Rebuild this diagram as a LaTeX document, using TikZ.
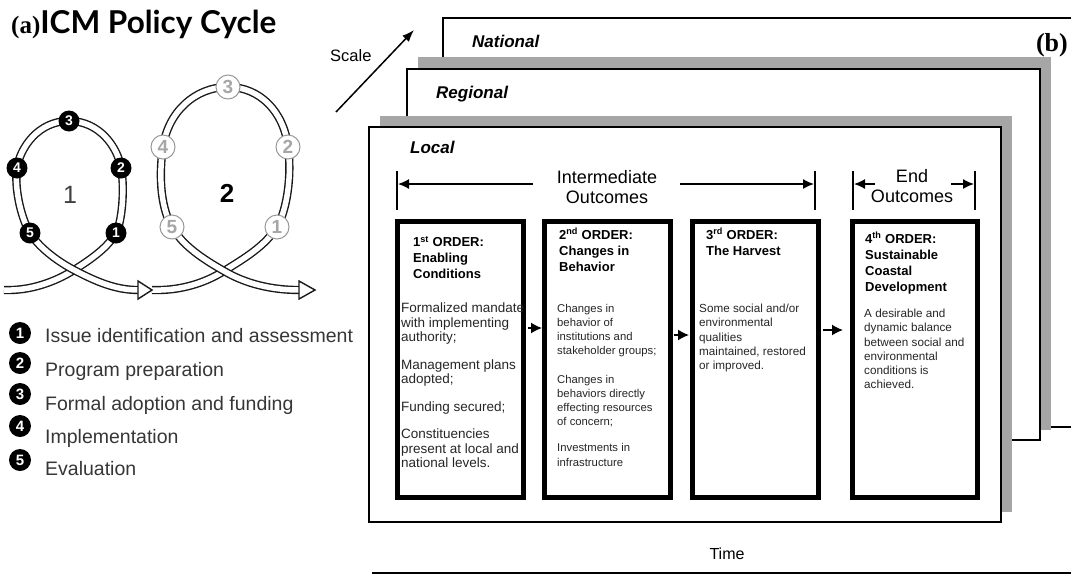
\documentclass[tikz,border=0pt]{standalone}
\usepackage{fontspec}
\setmainfont{Liberation Sans}
\newfontfamily\serifb{Liberation Serif}
\newfontfamily\titlefont{Lato}
\usetikzlibrary{arrows.meta}
\definecolor{shadowgray}{HTML}{A6A6A6}
\definecolor{legendtext}{HTML}{363636}
\begin{document}
\begin{tikzpicture}[x=1pt,y=-1pt,
  frame/.style={draw=black, line width=2.5pt, fill=white},
  ribbon/.style={draw=black!90, line width=1.4pt, double=white, double distance=5.5pt},
  headtri/.style={draw=black!90, line width=1.4pt, fill=white, line join=miter},
  markA/.style={circle, fill=black, text=white, minimum size=21pt, inner sep=0pt,
    font=\bfseries\fontsize{14}{14}\selectfont},
  markB/.style={circle, draw=gray!80, fill=white, line width=1pt, minimum size=24pt,
    inner sep=0pt, text=gray!70, font=\bfseries\fontsize{19}{19}\selectfont},
  keymark/.style={markA, minimum size=22pt, font=\bfseries\fontsize{15}{15}\selectfont},
  legendtxt/.style={anchor=base west, inner sep=0pt, text=legendtext,
    font=\fontsize{19.5}{19.5}\selectfont},
  level/.style={anchor=base west, inner sep=0pt, font=\bfseries\itshape\fontsize{17}{17}\selectfont},
  orderbox/.style={draw=black, line width=5pt, minimum height=276pt, inner sep=0pt},
  hdr/.style={anchor=north west, inner sep=0pt, align=left,
    font=\bfseries\fontsize{13}{16}\selectfont},
  bodytxt/.style={anchor=north west, inner sep=0pt, align=left, text=black!85},
  outcome/.style={align=center, inner sep=0pt, font=\fontsize{18}{20}\selectfont},
  bar/.style={line width=2.5pt},
  span/.style={line width=1.5pt, -{Latex[length=11pt,width=10pt]}},
  flow/.style={line width=1.5pt, -{Latex[length=11pt,width=11pt]}},
]
\useasboundingbox (0,0) rectangle (1071,579);

% ---------------- (a) policy cycle ----------------
\node[anchor=base west, inner sep=0pt] (title) at (11,33)
  {{\serifb\bfseries\fontsize{25}{25}\selectfont (a)}{\titlefont\bfseries\fontsize{31.5}{31.5}\selectfont ICM Policy Cycle}};

% first loop
\draw[ribbon] (4,290) .. controls (30,291) and (55,282) .. (74,270)
  .. controls (93,258) and (108,247) .. (116,233)
  .. controls (122,222) and (125,188) .. (121,168)
  .. controls (118,148) and (100,121) .. (69,121)
  .. controls (38,121) and (20,148) .. (17,168)
  .. controls (14,190) and (22,220) .. (30,233);
\draw[ribbon] (30,233) .. controls (38,246) and (55,260) .. (74,270)
  .. controls (95,281) and (115,290) .. (138,290);

% second loop
\draw[ribbon] (152,290) .. controls (180,291) and (205,283) .. (224,271)
  .. controls (245,258) and (265,246) .. (277,227)
  .. controls (287,210) and (292,175) .. (288,147)
  .. controls (284,112) and (260,87) .. (228,87)
  .. controls (195,87) and (168,112) .. (163,147)
  .. controls (158,180) and (162,210) .. (172,227);
\draw[ribbon] (172,227) .. controls (183,246) and (203,259) .. (224,271)
  .. controls (246,284) and (272,290) .. (299,290);

% open arrow heads
\draw[headtri] (138,281) -- (152,290) -- (138,299) -- cycle;
\draw[headtri] (299,281) -- (315,290) -- (299,299) -- cycle;

% loop numbers
\node[anchor=base, inner sep=0pt, text=black!75, font=\fontsize{25}{25}\selectfont] (cyc1) at (70,203) {1};
\node[anchor=base, inner sep=0pt, font=\bfseries\fontsize{26}{26}\selectfont] (cyc2) at (227,202) {2};

% stage markers, first cycle
\node[markA] (a1) at (116,233) {1};
\node[markA] (a2) at (121,168) {2};
\node[markA] (a3) at (69,121) {3};
\node[markA] (a4) at (17,168) {4};
\node[markA] (a5) at (30,233) {5};

% stage markers, second cycle
\node[markB] (b1) at (277,227) {1};
\node[markB] (b2) at (288,147) {2};
\node[markB] (b3) at (228,87) {3};
\node[markB] (b4) at (163,147) {4};
\node[markB] (b5) at (172,227) {5};

% legend
\node[keymark] (k1) at (20,333) {1};
\node[keymark] (k2) at (20,363) {2};
\node[keymark] (k3) at (20,394) {3};
\node[keymark] (k4) at (20,426) {4};
\node[keymark] (k5) at (20,460) {5};
\node[legendtxt] (t1) at (45,342) {Issue identification and assessment};
\node[legendtxt] (t2) at (45,376) {Program preparation};
\node[legendtxt] (t3) at (45,410) {Formal adoption and funding};
\node[legendtxt] (t4) at (45,443) {Implementation};
\node[legendtxt] (t5) at (45,475) {Evaluation};

% ---------------- (b) outcome frames ----------------
\node[anchor=base west, inner sep=0pt, font=\fontsize{16.5}{16.5}\selectfont] (scale) at (330,61) {Scale};
\coordinate (sc0) at (336,112);
\coordinate (sc1) at (414,30);
\draw[line width=1.5pt, -{Latex[length=12pt,width=9pt]}] (sc0) -- (sc1);

% stacked frames: national, regional, local
\filldraw[frame] (443,18) rectangle (1110,427);
\fill[shadowgray] (418,57) rectangle (1051,430);
\filldraw[frame] (407,69) rectangle (1040,440);
\fill[shadowgray] (380,116) rectangle (1012,512);
\filldraw[frame] (369,127) rectangle (1001,522);

\node[level] (national) at (472,47) {National};
\node[level] (regional) at (436,98) {Regional};
\node[level] (local) at (410,153) {Local};
\node[anchor=base east, inner sep=0pt, font=\serifb\bfseries\fontsize{26}{26}\selectfont] (panelb) at (1068,51) {(b)};

% outcome spans
\node[outcome] (inter) at (607,187) {Intermediate\\Outcomes};
\node[outcome] (endo) at (912,186) {End\\Outcomes};
\draw[bar] (397,171) -- (397,210);
\draw[bar] (815,171) -- (815,210);
\draw[bar] (853,171) -- (853,210);
\draw[bar] (975,171) -- (975,210);
\coordinate (il) at (398,184);
\coordinate (ir) at (814,184);
\coordinate (el) at (854,184);
\coordinate (er) at (974,184);
\draw[span] (inter.west |- il) ++(-24,0) -- (il);
\draw[span] (inter.east |- ir) ++(23,0) -- (ir);
\draw[span] (endo.west |- el) ++(4,0) -- (el);
\draw[span] (endo.east |- er) ++(-2,0) -- (er);

% the four orders
\node[orderbox, minimum width=126pt] (o1) at (460.5,359.5) {};
\node[orderbox, minimum width=126pt] (o2) at (607.5,359.5) {};
\node[orderbox, minimum width=126pt] (o3) at (755.5,359.5) {};
\node[orderbox, minimum width=125pt] (o4) at (915,359.5) {};

\draw[flow, shorten <=2pt, shorten >=0pt] (o1.east |- 0,328) -- (o2.west |- 0,328);
\draw[flow, shorten <=1pt, shorten >=1pt] (o2.east |- 0,335) -- (o3.west |- 0,335);
\draw[flow, shorten <=2pt, shorten >=7pt] (o3.east |- 0,330) -- (o4.west |- 0,330);

\node[hdr] (h1) at (413,236) {1\textsuperscript{st} ORDER:\\Enabling\\Conditions};
\node[hdr] (h2) at (559,228) {2\textsuperscript{nd} ORDER:\\Changes in\\Behavior};
\node[hdr] (h3) at (706,228) {3\textsuperscript{rd} ORDER:\\The Harvest};
\node[hdr] (h4) at (865,232) {4\textsuperscript{th} ORDER:\\Sustainable\\Coastal\\Development};

\node[bodytxt, font=\fontsize{13.5}{14.5}\selectfont] (d1) at (401,303)
  {Formalized mandate\\with implementing\\authority;\\[13pt]Management plans\\adopted;\\[13pt]Funding secured;\\[13pt]Constituencies\\present at local and\\national levels.};
\node[bodytxt, font=\fontsize{11.3}{14.2}\selectfont] (d2) at (557,304)
  {Changes in\\behavior of\\institutions and\\stakeholder groups;\\[14pt]Changes in\\behaviors directly\\effecting resources\\of concern;\\[12pt]Investments in\\infrastructure};
\node[bodytxt, font=\fontsize{11.7}{14.3}\selectfont] (d3) at (699,304)
  {Some social and/or\\environmental\\qualities\\maintained, restored\\or improved.};
\node[bodytxt, font=\fontsize{11.7}{14.2}\selectfont] (d4) at (864,309)
  {A desirable and\\dynamic balance\\between social and\\environmental\\conditions is\\achieved.};

% time axis
\node[anchor=base, inner sep=0pt, font=\fontsize{16}{16}\selectfont] (time) at (727,559) {Time};
\draw[line width=1.5pt] (372,573) -- (1071,573);
\end{tikzpicture}
\end{document}
